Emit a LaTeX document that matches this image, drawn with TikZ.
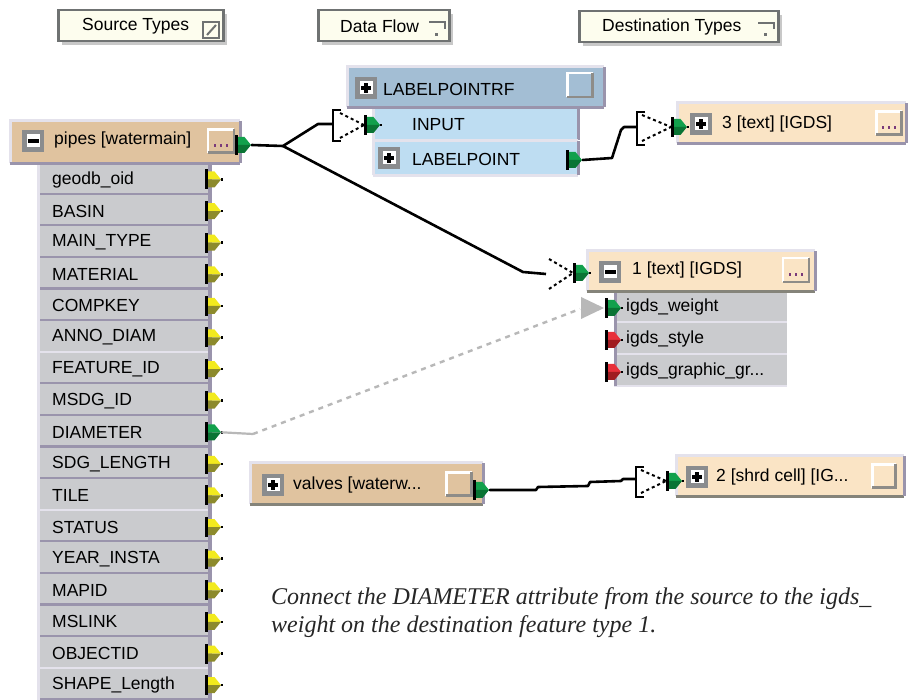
\documentclass[tikz,border=0pt]{standalone}
\usepackage{fontspec}
\setmainfont{Liberation Serif}
\newfontfamily\uifont{Liberation Sans}
\usetikzlibrary{calc}
\definecolor{cream}{HTML}{FDFDEE}
\definecolor{btngray}{HTML}{6F7272}
\definecolor{shadowgray}{HTML}{C8C8C8}
\definecolor{tan}{HTML}{E0C39F}
\definecolor{ltan}{HTML}{FAE4C5}
\definecolor{rowgray}{HTML}{CACBCE}
\definecolor{sepc}{HTML}{9A94AC}
\definecolor{hic}{HTML}{E4E2EC}
\definecolor{steel}{HTML}{A3BED4}
\definecolor{ltblue}{HTML}{BEDDF2}
\definecolor{pgreen}{HTML}{12A04C}
\definecolor{pgreend}{HTML}{0A7434}
\definecolor{pyellow}{HTML}{F2EA1E}
\definecolor{polive}{HTML}{8C8A2C}
\definecolor{pred}{HTML}{E8303A}
\definecolor{predd}{HTML}{A01C20}
\definecolor{icongray}{HTML}{8A8C8E}
\definecolor{btnsh}{HTML}{8E8C88}
\definecolor{dotc}{HTML}{7A3A7A}
\definecolor{olivebd}{HTML}{85847A}
\definecolor{linkgray}{HTML}{B8B8B8}

\newcommand\fport[4]{%
  \begin{scope}[shift={#2}]
    \fill[black] (0,-10) rectangle (3.2,10);
    \fill[#3] (3,-8) -- (9.5,-8) -- (16,0) -- (3,0) -- cycle;
    \fill[#4] (3,0) -- (16,0) -- (9.5,8) -- (3,8) -- cycle;
    \fill[black] (15.5,-1.3) rectangle (17.5,1.3);
    \coordinate (#1) at (16.5,0);
    \coordinate (#1b) at (0,0);
  \end{scope}}
\newcommand\minusicon[2]{%
  \node[icon] (#1) at #2 {};
  \node[iconin] (#1w) at #2 {};
  \fill[black] ([xshift=-5.5pt,yshift=-2pt]#1w.center) rectangle ([xshift=5.5pt,yshift=2pt]#1w.center);}
\newcommand\plusicon[2]{%
  \node[icon] (#1) at #2 {};
  \node[iconin] (#1w) at #2 {};
  \fill[black] ([xshift=-5pt,yshift=-1.6pt]#1w.center) rectangle ([xshift=5pt,yshift=1.6pt]#1w.center);
  \fill[black] ([xshift=-1.6pt,yshift=-5pt]#1w.center) rectangle ([xshift=1.6pt,yshift=5pt]#1w.center);}
\newcommand\fbtn[5]{%
  \node[fill=#5, minimum width=#3pt, minimum height=#4pt, inner sep=0] (#1) at #2 {};
  \draw[white, line width=2.5] (#1.south west) -- (#1.north west) -- (#1.north east);
  \draw[btnsh, line width=2.5] (#1.south west) -- (#1.south east) -- (#1.north east);}
\newcommand\btndots[1]{%
  \foreach \dx in {-6,0,6} {\fill[dotc] ([xshift=\dx pt-1.3pt,yshift=-3.5pt]#1.center) rectangle ([xshift=\dx pt+1.3pt,yshift=-6.2pt]#1.center);}}
\newcommand\fmebox[6]{%
  \node[fill=#5, minimum width=#3pt, minimum height=#4pt, inner sep=0, anchor=north west] (#1) at #2 {};
  \draw[hic, line width=3] (#1.south west) -- (#1.north west) -- (#1.north east);
  \draw[#6, line width=3] (#1.south west) -- (#1.south east);
  \draw[sepc, line width=3] (#1.south east) -- (#1.north east);}

\begin{document}
\begin{tikzpicture}[x=1pt,y=-1pt,
  uitext/.style={font=\uifont\fontsize{17.5}{20}\selectfont, inner sep=0, anchor=west, text=black},
  captext/.style={font=\itshape\fontsize{24}{27}\selectfont, inner sep=0, anchor=base west, text=black!85},
  tbtn/.style={draw=btngray, line width=2.5, fill=cream, anchor=north west, inner sep=0},
  icon/.style={fill=icongray, minimum size=22pt, inner sep=0},
  iconin/.style={fill=white, minimum size=13pt, inner sep=0},
  row/.style={fill=rowgray, inner sep=0, anchor=north west},
  conn/.style={black, line width=2.6, line join=round},
  tri/.style={black, line width=2, dash pattern=on 3pt off 3pt},
  brk/.style={black, line width=2.6}]
\useasboundingbox (0,0) rectangle (911,700);
\fill[white] (0,0) rectangle (911,700);

% ---------- toolbar buttons ----------
\fill[shadowgray] (62,14) rectangle (227,45);
\node[tbtn, minimum width=165pt, minimum height=31pt] (srcTypes) at (57,9) {};
\node[uitext] (srcTypesT) at (82,26) {Source Types};
\draw[btngray, line width=2] (203,22) rectangle (219,38);
\draw[btngray, line width=2] (207,35) -- (216,25);

\fill[shadowgray] (322,14) rectangle (453,45);
\node[tbtn, minimum width=131pt, minimum height=31pt] (dataFlow) at (317,9) {};
\node[uitext] (dataFlowT) at (340,26) {Data Flow};
\draw[btngray, line width=2] (429,22) -- (445,22) -- (445,29);
\fill[btngray] (435,33) rectangle (438,36);

\fill[shadowgray] (583,15) rectangle (782,46);
\node[tbtn, minimum width=199pt, minimum height=31pt] (dstTypes) at (578,10) {};
\node[uitext] (dstTypesT) at (602,27) {Destination Types};
\draw[btngray, line width=2] (758,23) -- (774,23) -- (774,29);
\fill[btngray] (764,33) rectangle (767,36);

% ---------- source feature type ----------
\fill[sepc] (208,163) rectangle (212,700);
\fill[hic] (37,163) rectangle (40,700);
\foreach \t [count=\i from 0] in {geodb\_oid, BASIN, MAIN\_TYPE, MATERIAL, COMPKEY, ANNO\_DIAM, FEATURE\_ID, MSDG\_ID, DIAMETER, SDG\_LENGTH, TILE, STATUS, YEAR\_INSTA, MAPID, MSLINK, OBJECTID, SHAPE\_Length} {
  \node[row, minimum width=168pt, minimum height=31.6pt] (a\i) at (40,{163+31.6*\i}) {};
  \ifnum\i=5 \def\sc{hic}\else\ifnum\i=10 \def\sc{hic}\else\ifnum\i=15 \def\sc{hic}\else\def\sc{sepc}\fi\fi\fi
  \draw[\sc, line width=2.5] ([yshift=1.2pt]a\i.south west) -- ([yshift=1.2pt]a\i.south east);
  \node[uitext] (at\i) at (52,{179.5+31.6*\i}) {\t};
  \ifnum\i=8
    \fport{p\i}{(205,{179.5+31.6*\i})}{pgreen}{pgreend}
  \else
    \fport{p\i}{(205,{179.5+31.6*\i})}{pyellow}{polive}
  \fi
}
\fmebox{src}{(10,121)}{230}{42}{tan}{sepc}
\minusicon{srcIcon}{(33,141)}
\node[uitext] (srcT) at (54,140) {pipes [watermain]};
\fbtn{srcBtn}{(221,141)}{26}{23}{tan}
\btndots{srcBtn}
\fport{srcP}{(235,145)}{pgreen}{pgreend}

% ---------- LABELPOINTRF transformer ----------
\fmebox{lpIn}{(373,107)}{205}{33}{ltblue}{sepc}
\fmebox{lpOut}{(373,141)}{205}{34}{ltblue}{hic}
\fmebox{lpHdr}{(347,67)}{257}{40}{steel}{sepc}
\plusicon{lpIcon}{(366,88)}
\node[uitext] (lpT) at (383,89) {LABELPOINTRF};
\fbtn{lpBtn}{(580,85)}{25}{24}{steel}
\node[uitext] (lpInT) at (412,125) {INPUT};
\plusicon{lpOutIcon}{(389,158)}
\node[uitext] (lpOutT) at (412,159) {LABELPOINT};
\fport{lpInP}{(364,125)}{pgreen}{pgreend}
\fport{lpOutP}{(566,160)}{pgreen}{pgreend}

% ---------- destination 3 ----------
\fmebox{t3}{(677,103)}{229}{40}{ltan}{sepc}
\plusicon{t3Icon}{(701,124)}
\node[uitext] (t3T) at (722,124) {3 [text] [IGDS]};
\fbtn{t3Btn}{(889,123)}{25}{23}{ltan}
\btndots{t3Btn}
\fport{t3P}{(671,127)}{pgreen}{pgreend}

% ---------- destination 1 ----------
\node[row, minimum width=173pt, minimum height=31pt] (b0) at (614,291) {};
\node[row, minimum width=173pt, minimum height=31pt] (b1) at (614,323) {};
\node[row, minimum width=173pt, minimum height=31pt] (b2) at (614,355) {};
\draw[hic, line width=2] (b0.south west) -- (b0.south east);
\draw[hic, line width=2] (b1.south west) -- (b1.south east);
\draw[hic, line width=2] (b2.south west) -- (b2.south east);
\fill[sepc] (614,291) rectangle (617,386);
\node[uitext] (b0T) at (626,307) {igds\_weight};
\node[uitext] (b1T) at (626,339) {igds\_style};
\node[uitext] (b2T) at (626,371) {igds\_graphic\_gr...};
\fport{q0}{(605,308)}{pgreen}{pgreend}
\fport{q1}{(605,340)}{pred}{predd}
\fport{q2}{(605,372)}{pred}{predd}
\fmebox{t1}{(587,251)}{228}{40}{ltan}{olivebd}
\minusicon{t1Icon}{(610,272)}
\node[uitext] (t1T) at (632,270) {1 [text] [IGDS]};
\fbtn{t1Btn}{(796,270)}{26}{24}{ltan}
\btndots{t1Btn}
\fport{t1P}{(573,273)}{pgreen}{pgreend}

% ---------- valves ----------
\fmebox{vlv}{(250,463)}{233}{41}{tan}{olivebd}
\plusicon{vlvIcon}{(273,485)}
\node[uitext] (vlvT) at (293,485) {valves [waterw...};
\fbtn{vlvBtn}{(459,484)}{25}{23}{tan}
\fport{vlvP}{(473,490)}{pgreen}{pgreend}

% ---------- destination 2 ----------
\fmebox{t2}{(676,456)}{228}{40}{ltan}{olivebd}
\plusicon{t2Icon}{(697,477)}
\node[uitext] (t2T) at (716,477) {2 [shrd cell] [IG...};
\fbtn{t2Btn}{(884,476)}{23}{23}{ltan}
\fport{t2P}{(666,481)}{pgreen}{pgreend}

% ---------- connections ----------
\coordinate (J) at (283,146);
\draw[conn] (srcP) -- (J) -- (318,124) -- (333,124);
\draw[brk] (341,110) -- (333,110) -- (333,141) -- (341,141);
\draw[tri] (340,113) -- (lpInPb);
\draw[tri] (340,138) -- (lpInPb);

\draw[conn] (J) -- (523,272) -- (546,274);
\draw[tri] (549,259) -- (t1Pb);
\draw[tri] (549,289) -- (t1Pb);

\draw[conn] (lpOutP) -- (612,158) -- (621,130) -- (624,127) -- (637,127);
\draw[brk] (645,112) -- (637,112) -- (637,145) -- (645,145);
\draw[tri] (642,115) -- (t3Pb);
\draw[tri] (642,141) -- (t3Pb);

\draw[conn] (vlvP) -- (536,490) -- (538,487) -- (588,486) -- (590,482) -- (621,481) -- (623,479) -- (636,479);
\draw[brk] (644,467) -- (636,467) -- (636,497) -- (644,497);
\draw[tri] (641,470) -- (t2Pb);
\draw[tri] (641,493) -- (t2Pb);

\draw[linkgray, line width=2.2] (p8) -- (253,434);
\draw[linkgray, line width=2.4, dash pattern=on 5pt off 5pt] (253,434) -- (580,309);
\fill[linkgray] (581,297) -- (581,319) -- (604,308) -- cycle;

% ---------- caption ----------
\node[captext] (cap1) at (271,604) {Connect the DIAMETER attribute from the source to the igds\_};
\node[captext] (cap2) at (271,632) {weight on the destination feature type 1.};
\end{tikzpicture}
\end{document}
